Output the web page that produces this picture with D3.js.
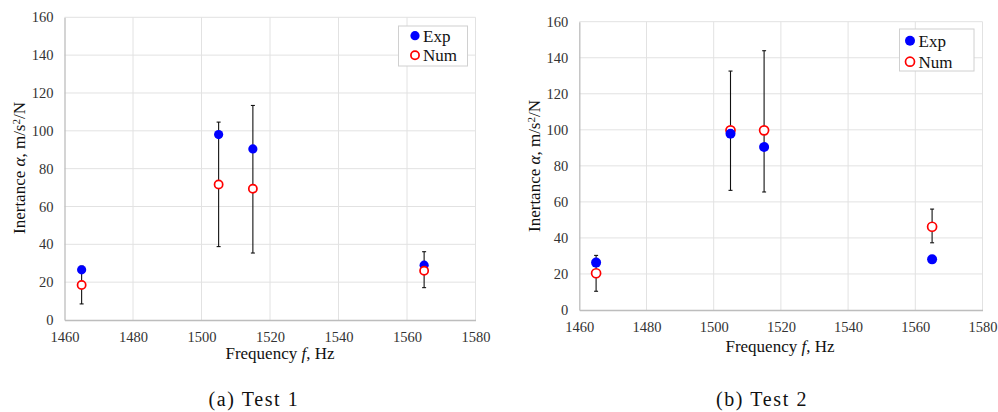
<!DOCTYPE html>
<html><head><meta charset="utf-8">
<script src="https://cdn.jsdelivr.net/npm/d3@7"></script>
<style>
html,body{margin:0;padding:0;background:#fff;}
svg{display:block;}
svg text{font-family:"Liberation Serif","Times New Roman",Tinos,"DejaVu Serif",serif;}
</style></head>
<body>
<svg id="chart" width="998" height="412"></svg>
<script>
const frequencies = [1465, 1505, 1515, 1565];
const xTicks = [1460, 1480, 1500, 1520, 1540, 1560, 1580];
const yTicks = [0, 20, 40, 60, 80, 100, 120, 140, 160];
const seriesNames = ["Exp", "Num"];

const test1Exp = [26.5, 98, 90.4, 29];
const test1Num = [18.5, 71.6, 69.4, 26];
const test1ErrLow = [8.5, 38.8, 35.4, 17.1];
const test1ErrHigh = [28.5, 104.6, 113.4, 36.1];

const test2Exp = [26.3, 97.8, 90.5, 28.1];
const test2Num = [20.4, 99.7, 99.7, 46.2];
const test2ErrLow = [10.4, 66.4, 65.5, 37.3];
const test2ErrHigh = [30.3, 132.6, 143.9, 56.0];

const captions = ["(a) Test 1", "(b) Test 2"];

const svg = d3.select("#chart");
const serif = "\"Liberation Serif\", \"Times New Roman\", serif";

function panel(cfg) {
  const x = d3.scaleLinear().domain([1460, 1580]).range([cfg.left, cfg.right]);
  const y = d3.scaleLinear().domain([0, 160]).range([cfg.bottom, cfg.top]);
  const g = svg.append("g");

  g.append("g").selectAll("line").data(yTicks.slice(1)).join("line")
    .attr("x1", cfg.left).attr("x2", cfg.right)
    .attr("y1", d => y(d)).attr("y2", d => y(d))
    .attr("stroke", "#e2e2e2").attr("stroke-width", 1);
  g.append("g").selectAll("line").data(xTicks.slice(1)).join("line")
    .attr("x1", d => x(d)).attr("x2", d => x(d))
    .attr("y1", cfg.top).attr("y2", cfg.bottom)
    .attr("stroke", "#e2e2e2").attr("stroke-width", 1);

  const ax = g.append("g").attr("transform", `translate(0,${cfg.bottom})`)
    .call(d3.axisBottom(x).tickValues(xTicks).tickSize(0).tickPadding(12).tickFormat(d3.format("d")));
  const ay = g.append("g").attr("transform", `translate(${cfg.left},0)`)
    .call(d3.axisLeft(y).tickValues(yTicks).tickSize(0).tickPadding(11).tickFormat(d3.format("d")));
  [ax, ay].forEach(a => {
    a.attr("font-family", null).attr("font-size", null);
    a.select(".domain").attr("stroke", "#bdbdbd").attr("stroke-width", 1.3);
    a.selectAll("text").style("font-family", serif).style("font-size", "14.5px").attr("fill", "#333");
  });

  const eb = g.append("g");
  frequencies.forEach((f, i) => {
    const cx = x(f);
    eb.append("line").attr("x1", cx).attr("x2", cx)
      .attr("y1", y(cfg.errLow[i])).attr("y2", y(cfg.errHigh[i]))
      .attr("stroke", "#111").attr("stroke-width", 1.1);
    [cfg.errLow[i], cfg.errHigh[i]].forEach(v => {
      eb.append("line").attr("x1", cx - 2).attr("x2", cx + 2)
        .attr("y1", y(v)).attr("y2", y(v))
        .attr("stroke", "#111").attr("stroke-width", 1.1);
    });
  });

  const drawExp = () => g.append("g").selectAll("circle").data(cfg.exp).join("circle")
    .attr("cx", (d, i) => x(frequencies[i])).attr("cy", d => y(d))
    .attr("r", cfg.r).attr("fill", "#0000ff");
  const drawNum = () => g.append("g").selectAll("circle").data(cfg.num).join("circle")
    .attr("cx", (d, i) => x(frequencies[i])).attr("cy", d => y(d))
    .attr("r", cfg.r - 0.5).attr("fill", "#fff").attr("stroke", "#ff0000").attr("stroke-width", 1.7);
  if (cfg.expOnTop) { drawNum(); drawExp(); } else { drawExp(); drawNum(); }

  const L = cfg.legend;
  g.append("rect").attr("x", L.x).attr("y", L.y).attr("width", L.w).attr("height", L.h)
    .attr("fill", "#fff").attr("stroke", "#d0d0d0").attr("stroke-width", 1);
  seriesNames.forEach((name, i) => {
    const cy = L.y + L.row0 + i * L.step;
    if (i === 0) {
      g.append("circle").attr("cx", L.mx).attr("cy", cy).attr("r", cfg.r).attr("fill", "#0000ff");
    } else {
      g.append("circle").attr("cx", L.mx).attr("cy", cy).attr("r", cfg.r - 0.5)
        .attr("fill", "#fff").attr("stroke", "#ff0000").attr("stroke-width", 1.7);
    }
    g.append("text").attr("x", L.tx).attr("y", cy).attr("dy", "0.35em")
      .style("font-family", serif).style("font-size", "17px").attr("fill", "#111").text(name);
  });

  const xt = g.append("text").attr("x", cfg.xLabelX).attr("y", cfg.xLabelY)
    .attr("text-anchor", "middle").style("font-family", serif).style("font-size", "17px").attr("fill", "#111");
  xt.append("tspan").text("Frequency ");
  xt.append("tspan").attr("font-style", "italic").text("f");
  xt.append("tspan").text(", Hz");

  const yt = g.append("text").attr("transform", `translate(${cfg.yLabelX},${cfg.yLabelY}) rotate(-90)`)
    .attr("text-anchor", "middle").style("font-family", serif).style("font-size", "17px").attr("fill", "#111");
  yt.append("tspan").text("Inertance ");
  yt.append("tspan").attr("font-style", "italic").text("α");
  yt.append("tspan").text(", m/s");
  yt.append("tspan").style("font-size", "11px").attr("dy", "-0.5em").text("2");
  yt.append("tspan").attr("dy", "0.33em").text("/N");

  svg.append("text").attr("x", cfg.capX).attr("y", 406).attr("text-anchor", "middle")
    .style("font-family", serif).style("font-size", "20px").attr("letter-spacing", 1.6).attr("fill", "#111")
    .text(cfg.caption);
}

panel({
  left: 64.5, right: 475.5, top: 17.3, bottom: 320, r: 4.6,
  exp: test1Exp, num: test1Num, errLow: test1ErrLow, errHigh: test1ErrHigh,
  expOnTop: false,
  legend: {x: 398.5, y: 26, w: 69, h: 40, row0: 9.7, step: 19.6, mx: 415, tx: 423},
  xLabelX: 280, xLabelY: 359, yLabelX: 25, yLabelY: 168,
  capX: 254, caption: captions[0]
});
panel({
  left: 579.3, right: 982.5, top: 21.7, bottom: 310, r: 5,
  exp: test2Exp, num: test2Num, errLow: test2ErrLow, errHigh: test2ErrHigh,
  expOnTop: true,
  legend: {x: 899.5, y: 29, w: 74.5, h: 42, row0: 11.7, step: 21, mx: 910, tx: 918.5},
  xLabelX: 780, xLabelY: 352, yLabelX: 540, yLabelY: 166,
  capX: 762, caption: captions[1]
});
</script>
</body></html>
